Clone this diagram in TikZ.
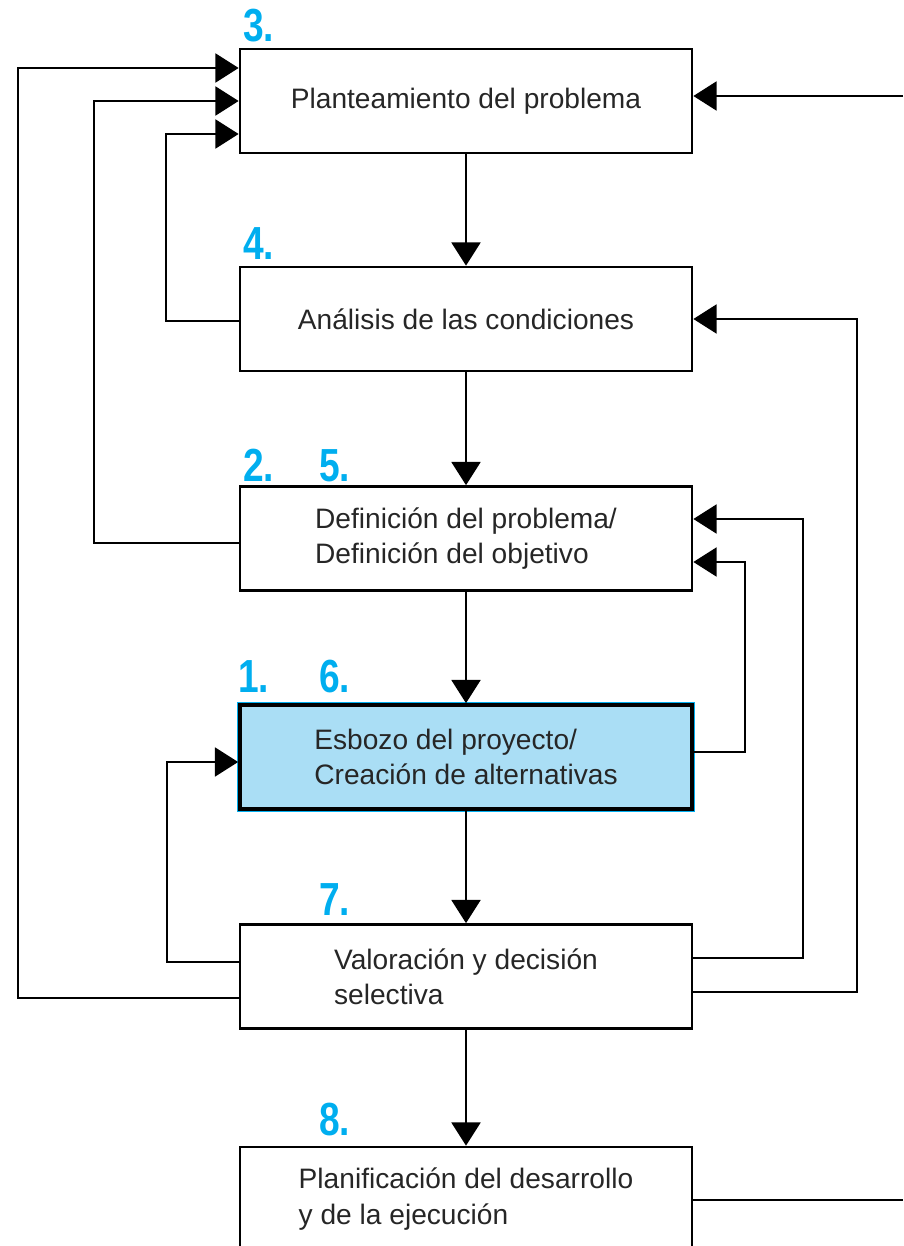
\documentclass[tikz,border=0pt]{standalone}
\usepackage{fontspec}
\setmainfont{Liberation Sans}
\newfontfamily\numfont[FakeStretch=0.8]{Liberation Sans}
\usetikzlibrary{arrows.meta}
\definecolor{numblue}{RGB}{0,174,239}
\definecolor{boxblue}{RGB}{170,222,245}
\begin{document}
\begin{tikzpicture}[x=0.025cm, y=-0.025cm, line width=0.065cm,
    box/.style={draw, minimum width=11.3cm, minimum height=2.6cm, align=left, inner sep=0pt,
      text=black!85, font=\fontsize{20}{25}\selectfont},
    num/.style={anchor=base west, inner sep=0pt, text=numblue, font=\numfont\bfseries\fontsize{33}{33}\selectfont},
    arr/.style={-{Triangle[length=0.58cm, width=0.72cm]}}]
    \useasboundingbox (0,0) rectangle (903,1246);
    % boxes
    \node[box] (plan) at (466,101) {Planteamiento del problema};
    \node[box] (ana) at (466,319) {Análisis de las condiciones};
    \node[box] (def) at (466,538.5) {Definición del problema/\\Definición del objetivo};
    \node[box, fill=boxblue, line width=0.09cm, preaction={draw=numblue, line width=0.17cm}] (esb) at (466,757) {Esbozo del proyecto/\\Creación de alternativas};
    \node[box] (val) at (466,976.5) {Valoración y decisión\\selectiva};
    \node[box] (pla) at (466,1199) {Planificación del desarrollo\\y de la ejecución};
    % numbers
    \node[num] (n3) at (242,42) {3.};
    \node[num] (n4) at (242,260) {4.};
    \node[num] (n2) at (242,481) {2.};
    \node[num] (n5) at (318,481) {5.};
    \node[num] (n1) at (237,692) {1.};
    \node[num] (n6) at (318,692) {6.};
    \node[num] (n7) at (318,915) {7.};
    \node[num] (n8) at (318,1135) {8.};
    % main flow
    \draw[arr] (plan) -- (ana);
    \draw[arr] (ana) -- (def);
    \draw[arr] (def) -- (esb);
    \draw[arr] (esb) -- (val);
    \draw[arr] (val) -- (pla);
    % feedback left
    \draw[arr] (val.west |- 0,998) -| (18,68) -- (plan.west |- 0,68);
    \draw[arr] (def.west |- 0,543) -| (94,101) -- (plan.west |- 0,101);
    \draw[arr] (ana.west |- 0,321) -| (166,134) -- (plan.west |- 0,134);
    \draw[arr] (val.west |- 0,962) -| (167,762) -- (esb.west |- 0,762);
    % feedback right
    \draw[arr] (val.east |- 0,992) -| (857,319) -- (ana.east |- 0,319);
    \draw[arr] (val.east |- 0,958) -| (803,519) -- (def.east |- 0,519);
    \draw[arr] (esb.east |- 0,752) -| (745,562) -- (def.east |- 0,562);
    \coordinate (in) at (903,96);
    \coordinate (out) at (903,1200);
    \draw[arr] (in) -- (plan.east |- in);
    \draw (pla.east |- out) -- (out);
\end{tikzpicture}
\end{document}
